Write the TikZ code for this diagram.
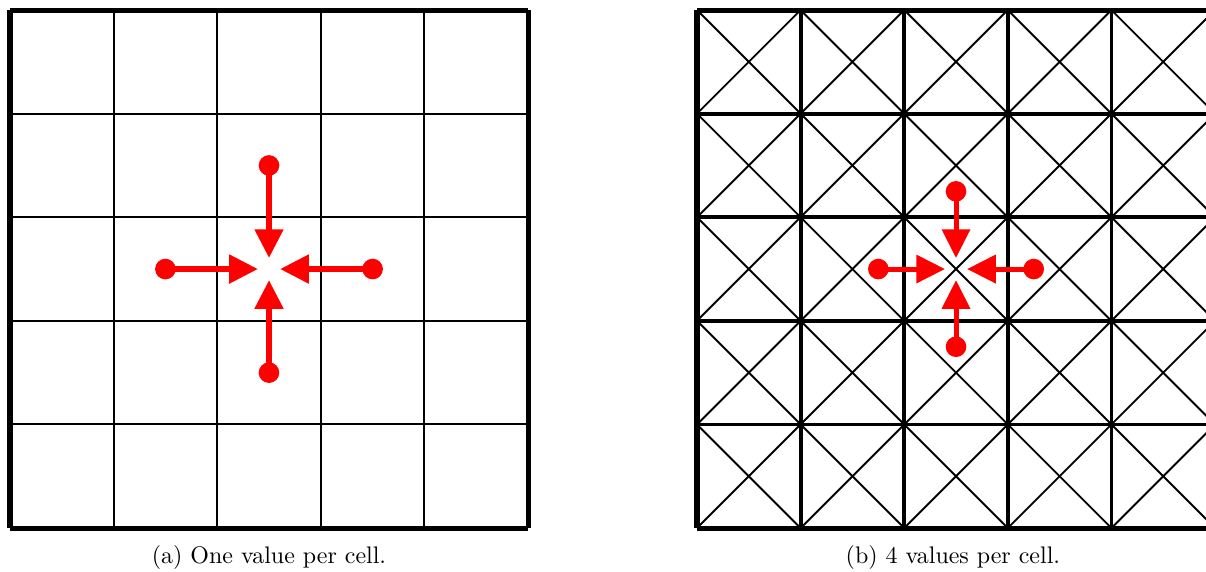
\documentclass[tikz,border=0pt]{standalone}
\usepackage{amsmath,amssymb}
\usepackage{xcolor}
\usetikzlibrary{arrows.meta,calc}

\begin{document}
\begin{tikzpicture}[x=1.52cm, y=1.52cm,
    frame/.style={line width=2.1pt},
    dot/.style={circle, fill=red, inner sep=0pt, minimum size=8.6pt},
    flow/.style={red, -{Triangle[length=12pt,width=11.5pt]}, shorten >=4.6pt}]
  \useasboundingbox (-0.0965,-0.415) rectangle (11.544,5.097);

  % (a) one value per cell
  \foreach \k in {1,...,4} {
    \draw[line width=0.8pt] (\k,0) -- (\k,5);
    \draw[line width=0.8pt] (0,\k) -- (5,\k);
  }
  \draw[frame] (0,0) -- (5,0);
  \draw[frame] (0,5) -- (5,5);
  \draw[frame] (0,0) -- (0,5);
  \draw[frame] (5,0) -- (5,5);
  \coordinate (ca) at (2.5,2.5);
  \node[dot] (an) at (2.5,3.5) {};
  \node[dot] (as) at (2.5,1.5) {};
  \node[dot] (aw) at (1.5,2.5) {};
  \node[dot] (ae) at (3.5,2.5) {};
  \foreach \p in {an,as,aw,ae}
    \draw[flow, line width=2.6pt] (\p.center) -- (ca);
  \node (capa) at (2.5,-0.28) {(a) One value per cell.};

  % (b) 4 values per cell
  \begin{scope}[xshift=6.631*1.52cm]
    \foreach \i in {0,...,4}
      \foreach \j in {0,...,4} {
        \draw[line width=0.8pt] (\i,\j) -- (\i+1,\j+1);
        \draw[line width=0.8pt] (\i+1,\j) -- (\i,\j+1);
      }
    \foreach \k in {1,...,4} {
      \draw[line width=1.6pt] (\k,0) -- (\k,5);
      \draw[line width=1.6pt] (0,\k) -- (5,\k);
    }
    \draw[frame] (0,0) -- (5,0);
    \draw[frame] (0,5) -- (5,5);
    \draw[frame] (0,0) -- (0,5);
    \draw[frame] (5,0) -- (5,5);
    \coordinate (cb) at (2.5,2.5);
    \node[dot] (bn) at (2.5,3.25) {};
    \node[dot] (bs) at (2.5,1.75) {};
    \node[dot] (bw) at (1.75,2.5) {};
    \node[dot] (be) at (3.25,2.5) {};
    \foreach \p in {bn,bs,bw,be}
      \draw[flow, line width=2.1pt] (\p.center) -- (cb);
    \node (capb) at (2.47,-0.28) {(b) 4 values per cell.};
  \end{scope}
\end{tikzpicture}
\end{document}
